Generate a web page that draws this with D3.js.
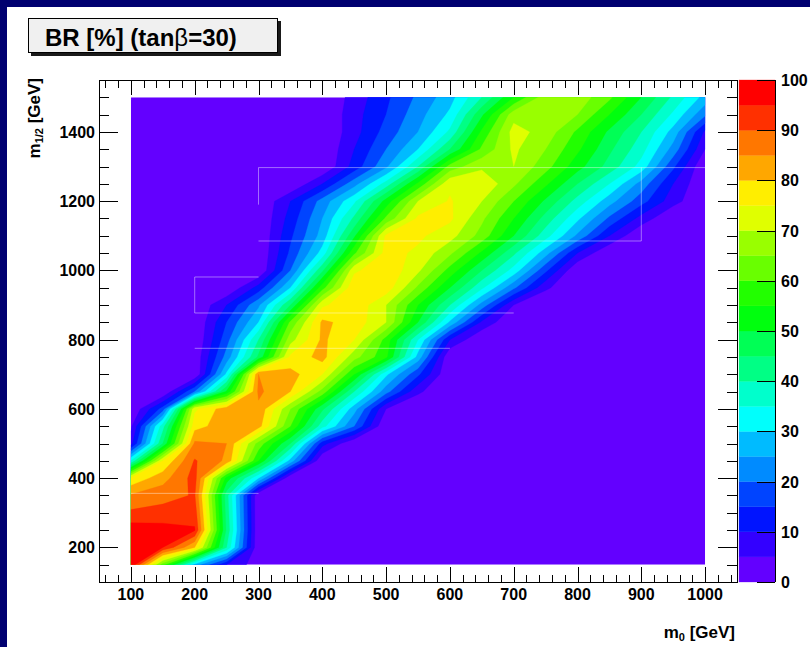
<!DOCTYPE html>
<html>
<head>
<meta charset="utf-8">
<script src="https://cdn.jsdelivr.net/npm/d3@7"></script>
<style>
  html, body { margin: 0; padding: 0; background: #ffffff; }
  svg { display: block; font-family: Arial, "Liberation Sans", Helvetica, sans-serif; }
</style>
</head>
<body>
<svg id="chart" width="810" height="647"></svg>
<script>
// ---- scan grid: m0 (columns) and m1/2 (rows), BR in percent ----
const m0Values  = [100, 150, 200, 250, 300, 350, 400, 450, 500, 550,
                   600, 650, 700, 750, 800, 850, 900, 950, 1000];
const m12Values = [150, 200, 250, 300, 350, 400, 450, 500, 550, 600, 650, 700, 750, 800,
                   850, 900, 950, 1000, 1050, 1100, 1150, 1200, 1250, 1300, 1350, 1400, 1450, 1500];

//                m0: 100  150  200  250  300  350  400  450  500  550  600  650  700  750  800  850  900  950 1000
const br150  = [100,  62,  28,  10,   2,   0,   0,   0,   0,   0,   0,   0,   0,   0,   0,   0,   0,   0,   0];
const br200  = [100,  95,  80,  40,   0,   0,   0,   0,   0,   0,   0,   0,   0,   0,   0,   0,   0,   0,   0];
const br250  = [ 98,  97, 95.5, 44,   0,   0,   0,   0,   0,   0,   0,   0,   0,   0,   0,   0,   0,   0,   0];
const br300  = [ 91,  92,  93,  43,   0,   0,   0,   0,   0,   0,   0,   0,   0,   0,   0,   0,   0,   0,   0];
const br350  = [85.5, 88, 90.5, 42,   0,   0,   0,   0,   0,   0,   0,   0,   0,   0,   0,   0,   0,   0,   0];
const br400  = [ 76,  83,  92,  53,  30,   0,   0,   0,   0,   0,   0,   0,   0,   0,   0,   0,   0,   0,   0];
const br450  = [ 35,  75, 90.5, 84,  55,  28,   0,   0,   0,   0,   0,   0,   0,   0,   0,   0,   0,   0,   0];
const br500  = [  8,  45,  86,  85,  63,  45,  12,   0,   0,   0,   0,   0,   0,   0,   0,   0,   0,   0,   0];
const br550  = [  4,  38,  78,  83,  82,  60,  37,  20,   0,   0,   0,   0,   0,   0,   0,   0,   0,   0,   0];
const br600  = [  0,  17,  74,  83,  84,  65,  46,  27,   5,   0,   0,   0,   0,   0,   0,   0,   0,   0,   0];
const br650  = [  0,   0,  20,  51,  86,  80,  63,  40,  22,   6,   0,   0,   0,   0,   0,   0,   0,   0,   0];
const br700  = [  0,   0,   0,  31,  85,  82,  75,  55,  31,  16,   0,   0,   0,   0,   0,   0,   0,   0,   0];
const br750  = [  0,   0,   1,  22,  46,  76,  82,  67,  56,  28,   0,   0,   0,   0,   0,   0,   0,   0,   0];
const br800  = [  0,   0,   0,  18,  40,  68,  81,  75,  58,  35,  10,   0,   0,   0,   0,   0,   0,   0,   0];
const br850  = [  0,   0,   0,  15,  30,  61,  81,  78,  70,  50,  29,   9,   0,   0,   0,   0,   0,   0,   0];
const br900  = [  0,   0,   0,  10,  24,  45,  74,  79,  70,  55,  40,  23,   5,   0,   0,   0,   0,   0,   0];
const br950  = [  0,   0,   0,   0,  12,  30,  58,  79,  78,  64,  50,  36,  21,   6,   0,   0,   0,   0,   0];
const br1000 = [  0,   0,   0,   0,   0,  20,  44,  74,  79,  71,  58,  45,  33,  16,   0,   0,   0,   0,   0];
const br1050 = [  0,   0,   0,   0,   0,  16,  32,  59,  77,  74,  66,  54,  41,  27,  10,   0,   0,   0,   0];
const br1100 = [  0,   0,   0,   0,   0,  14,  27,  49,  76,  76,  72,  63,  50,  37,  24,  10,   0,   0,   0];
const br1150 = [  0,   0,   0,   0,   0,  12,  25,  41,  61,  76,  76,  66,  55,  43,  31,  19,   8,   0,   0];
const br1200 = [  0,   0,   0,   0,   0,  10,  22,  34,  52,  70, 75.5, 70,  60,  49,  38,  27,  17,   7,   0];
const br1250 = [  0,   0,   0,   0,   0,   0,  10,  23,  37,  56,  74,  74,  66,  56,  45,  35,  23,  10,   0];
const br1300 = [  0,   0,   0,   0,   0,   0,   0,  12,  24,  40,  62,  69,  70,  62,  52,  43,  33,  16,   0];
const br1350 = [  0,   0,   0,   0,   0,   0,   0,  10,  20,  30,  45,  61,  71,  65,  56,  46,  37,  23,   5];
const br1400 = [  0,   0,   0,   0,   0,   0,   0,   8,  17,  25,  36,  56,  72,  68,  59,  49,  40,  28,   9];
const br1450 = [  0,   0,   0,   0,   0,   0,   0,   8,  15,  23,  31,  49,  68,  70,  65,  55,  45,  34,  21];
const br1500 = [  0,   0,   0,   0,   0,   0,   0,   7,  14,  21,  28,  40,  55,  68,  68,  61,  50,  39,  28];

const brRows = [br150, br200, br250, br300, br350, br400, br450, br500, br550, br600,
                br650, br700, br750, br800, br850, br900, br950, br1000, br1050, br1100,
                br1150, br1200, br1250, br1300, br1350, br1400, br1450, br1500];

// contour levels and axis labels
const contourLevels = d3.range(0, 101, 5);          // 0, 5, ..., 100
const xTickLabels   = [100, 200, 300, 400, 500, 600, 700, 800, 900, 1000];
const yTickLabels   = [200, 400, 600, 800, 1000, 1200, 1400];
const zTickLabels   = [0, 10, 20, 30, 40, 50, 60, 70, 80, 90, 100];

// thin light seams left between the filled polygons (m0, m1/2)
const seams = [
  [[300, 1190], [300, 1297], [1000, 1297]],
  [[300, 1085], [900, 1085], [900, 1297]],
  [[300, 981], [200, 981], [200, 877], [700, 877]],
  [[200, 775], [600, 775]],
  [[100, 356], [300, 356]]
];

// ---- layout ----
const svg = d3.select("#chart");
const frame = { left: 99, right: 737, top: 80, bottom: 582 };
const bar   = { left: 739, right: 775 };

const x = d3.scaleLinear().domain([50, 1050]).range([frame.left, frame.right]);
const y = d3.scaleLinear().domain([100, 1550]).range([frame.bottom, frame.top]);
const z = d3.scaleLinear().domain([0, 100]).range([frame.bottom, frame.top]);

// palette: 50 hues from violet to red, 20 contour bands picked from it
const nPalette = 50, nBands = contourLevels.length - 1;
function bandColor(j) {
  const k = Math.floor((j + 0.99) * nPalette / nBands);
  const hue = 280 - (k + 1) * (280 / nPalette);
  return d3.hsl(hue, 1, 0.5).formatHex();
}

// page border
svg.append("rect").attr("x", 0).attr("y", 0).attr("width", 810).attr("height", 647).attr("fill", "#ffffff");
svg.append("rect").attr("x", 0).attr("y", 0).attr("width", 810).attr("height", 7).attr("fill", "#000070");
svg.append("rect").attr("x", 0).attr("y", 0).attr("width", 7).attr("height", 647).attr("fill", "#000070");

// ---- filled contours ----
const nx = m0Values.length, ny = m12Values.length;
const grid = [];
for (let j = 0; j < ny; j++) for (let i = 0; i < nx; i++) grid.push(brRows[j][i]);

const thresholds = contourLevels.slice(1, -1);
const contours = d3.contours().size([nx, ny]).thresholds(thresholds)(grid);

const stepX = m0Values[1] - m0Values[0], stepY = m12Values[1] - m12Values[0];
const gridToPx = d3.geoTransform({
  point(cx, cy) {
    this.stream.point(x(m0Values[0] + (cx - 0.5) * stepX), y(m12Values[0] + (cy - 0.5) * stepY));
  }
});
const contourPath = d3.geoPath(gridToPx);

const x0 = m0Values[0], x1 = m0Values[nx - 1], y0 = m12Values[0], y1 = m12Values[ny - 1];
svg.append("defs").append("clipPath").attr("id", "data-clip")
  .append("rect")
  .attr("x", x(x0)).attr("y", y(y1))
  .attr("width", x(x1) - x(x0)).attr("height", y(y0) - y(y1));

const plot = svg.append("g").attr("clip-path", "url(#data-clip)");
plot.append("rect")
  .attr("x", x(x0)).attr("y", y(y1))
  .attr("width", x(x1) - x(x0)).attr("height", y(y0) - y(y1))
  .attr("fill", bandColor(0));

plot.selectAll("path.band")
  .data(contours)
  .join("path")
  .attr("class", "band")
  .attr("d", contourPath)
  .attr("fill", (d, i) => bandColor(i + 1))
  .attr("stroke", (d, i) => bandColor(i + 1))
  .attr("stroke-width", 0.3);

const seamLine = d3.line().x(d => x(d[0])).y(d => y(d[1]));
plot.selectAll("path.seam")
  .data(seams)
  .join("path")
  .attr("class", "seam")
  .attr("d", seamLine)
  .attr("fill", "none")
  .attr("stroke", "#ffffff")
  .attr("stroke-opacity", 0.42)
  .attr("stroke-width", 1);

// ---- frame and ticks ----
const axes = svg.append("g").attr("stroke", "#000").attr("stroke-width", 1).attr("shape-rendering", "crispEdges");
axes.append("rect")
  .attr("x", frame.left).attr("y", frame.top)
  .attr("width", frame.right - frame.left).attr("height", frame.bottom - frame.top)
  .attr("fill", "none");

const xMinor = d3.range(60, 1041, 20);
const yMinor = d3.range(100, 1551, 50);
const xMajorSet = new Set(xTickLabels), yMajorSet = new Set(yTickLabels);

xMinor.forEach(v => {
  const len = xMajorSet.has(v) ? 15 : 7.5;
  const px = Math.round(x(v)) + 0.5;
  axes.append("line").attr("x1", px).attr("x2", px).attr("y1", frame.bottom).attr("y2", frame.bottom - len);
  axes.append("line").attr("x1", px).attr("x2", px).attr("y1", frame.top).attr("y2", frame.top + len);
});
yMinor.forEach(v => {
  const len = yMajorSet.has(v) ? 19 : 10;
  const py = Math.round(y(v)) + 0.5;
  axes.append("line").attr("y1", py).attr("y2", py).attr("x1", frame.left).attr("x2", frame.left + len);
  axes.append("line").attr("y1", py).attr("y2", py).attr("x1", frame.right).attr("x2", frame.right - len);
});

// tick labels
const labelFont = { size: 16, weight: "bold" };
svg.append("g").selectAll("text")
  .data(xTickLabels).join("text")
  .attr("x", d => x(d)).attr("y", 599.5)
  .attr("text-anchor", "middle")
  .attr("font-size", labelFont.size).attr("font-weight", labelFont.weight)
  .text(d => d);

svg.append("g").selectAll("text")
  .data(yTickLabels).join("text")
  .attr("x", 95).attr("y", d => y(d) + 6)
  .attr("text-anchor", "end")
  .attr("font-size", labelFont.size).attr("font-weight", labelFont.weight)
  .text(d => d);

// axis titles
const xTitle = svg.append("text")
  .attr("x", 735).attr("y", 638)
  .attr("text-anchor", "end")
  .attr("font-size", 17).attr("font-weight", "bold");
xTitle.append("tspan").text("m");
xTitle.append("tspan").attr("font-size", 11).attr("dy", 3).text("0");
xTitle.append("tspan").attr("dy", -3).text(" [GeV]");

const yTitle = svg.append("text")
  .attr("transform", "translate(40,78) rotate(-90)")
  .attr("text-anchor", "end")
  .attr("font-size", 17).attr("font-weight", "bold");
yTitle.append("tspan").text("m");
yTitle.append("tspan").attr("font-size", 11).attr("dy", 3).text("1/2");
yTitle.append("tspan").attr("dy", -3).text(" [GeV]");

// ---- colour scale ----
const barG = svg.append("g");
barG.selectAll("rect")
  .data(d3.range(nBands)).join("rect")
  .attr("x", bar.left)
  .attr("width", bar.right - bar.left)
  .attr("y", j => z(contourLevels[j + 1]))
  .attr("height", j => z(contourLevels[j]) - z(contourLevels[j + 1]))
  .attr("fill", j => bandColor(j))
  .attr("stroke", j => bandColor(j))
  .attr("stroke-width", 0.3);

const barAxis = svg.append("g").attr("stroke", "#000").attr("stroke-width", 1).attr("shape-rendering", "crispEdges");
barAxis.append("line").attr("x1", bar.right + 0.5).attr("x2", bar.right + 0.5).attr("y1", frame.top).attr("y2", frame.bottom);
zTickLabels.forEach(v => {
  const py = Math.round(z(v)) + 0.5;
  barAxis.append("line").attr("x1", bar.right).attr("x2", bar.right - 18).attr("y1", py).attr("y2", py);
});
svg.append("g").selectAll("text")
  .data(zTickLabels).join("text")
  .attr("x", 781).attr("y", d => z(d) + 6)
  .attr("font-size", labelFont.size).attr("font-weight", labelFont.weight)
  .text(d => d);

// ---- title box ----
svg.append("rect").attr("x", 31).attr("y", 21).attr("width", 250).attr("height", 35).attr("fill", "#1a1a1a");
svg.append("rect").attr("x", 28.5).attr("y", 18.5).attr("width", 249).attr("height", 34)
  .attr("fill", "#f0f0f0").attr("stroke", "#000").attr("stroke-width", 1);
const title = svg.append("text").attr("x", 45).attr("y", 46)
  .attr("font-size", 24).attr("font-weight", "bold");
title.append("tspan").text("BR [%] (tan");
title.append("tspan").attr("font-weight", "normal").text("β");
title.append("tspan").text("=30)");
</script>
</body>
</html>
